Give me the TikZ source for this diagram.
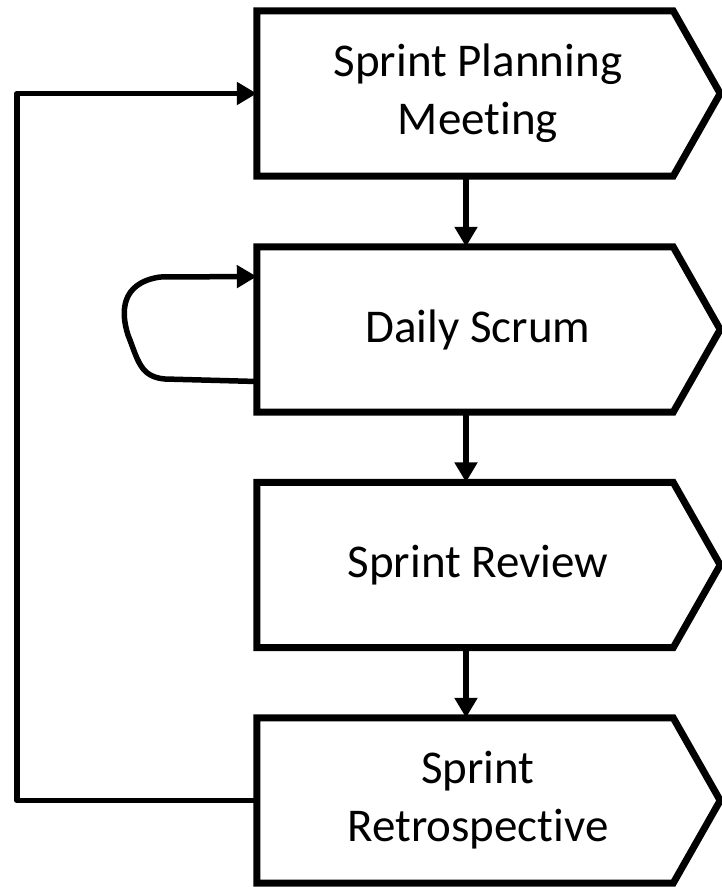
\documentclass[tikz,border=0pt]{standalone}
\usepackage{fontspec}
\setmainfont{Carlito}[Ligatures=NoCommon]
\usetikzlibrary{arrows.meta,calc}

\tikzset{
  stage/.style={minimum width=442pt, minimum height=165pt, inner sep=0pt,
    align=center, font=\fontsize{47}{58}\selectfont},
  outline/.style={line width=7pt, line join=miter},
  flow/.style={line width=5.5pt, -{Triangle[width=22pt,length=20pt]}},
  feedback/.style={line width=5.5pt, line join=round, -{Triangle[width=22pt,length=20pt]}}
}

% pentagon outline around a stage node
\newcommand{\stageoutline}[1]{%
  \draw[outline] (#1.north west) -- ([xshift=-26pt]#1.north east)
    -- ([xshift=21pt]#1.east) -- ([xshift=-26pt]#1.south east)
    -- (#1.south west) -- cycle;}

\begin{document}
\begin{tikzpicture}[x=1pt,y=-1pt]
  \useasboundingbox (0,0) rectangle (722,887);

  \node[stage] (b1) at (478,93.5) {Sprint Planning\\Meeting};
  \node[stage] (b2) at (478,329.5) {Daily Scrum};
  \node[stage] (b3) at (478,565) {Sprint Review};
  \node[stage] (b4) at (478,800.5) {Sprint\\Retrospective};

  \stageoutline{b1}
  \stageoutline{b2}
  \stageoutline{b3}
  \stageoutline{b4}

  % sequence arrows
  \draw[flow] ([xshift=-12pt]b1.south) -- ([xshift=-12pt]b2.north);
  \draw[flow] ([xshift=-12pt]b2.south) -- ([xshift=-12pt]b3.north);
  \draw[flow] ([xshift=-12pt]b3.south) -- ([xshift=-12pt]b4.north);

  % daily loop
  \draw[feedback] ($(b2.west)+(0,52)$) -- (165,379)
    .. controls (140,377) and (138,360) .. (128,335)
    .. controls (121,313) and (120,283) .. (160,277)
    -- ($(b2.west)+(0,-53)$);

  % back to planning
  \draw[feedback] (b4.west) -- ++(-240,0) |- (b1.west);
\end{tikzpicture}
\end{document}
